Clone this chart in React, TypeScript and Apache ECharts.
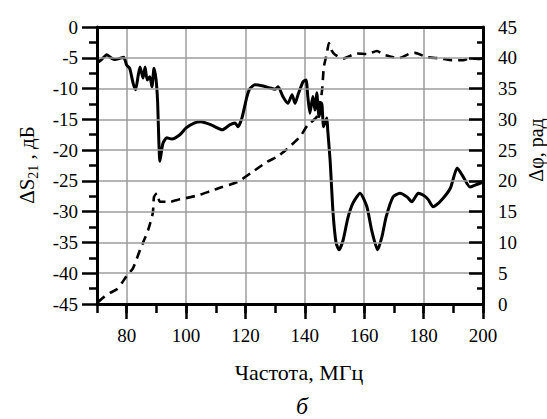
import React, { useEffect, useRef } from "react";
import * as echarts from "echarts";

// ΔS21, dB (left axis) vs frequency, MHz
const freqS = [70, 71.5, 73.3, 75, 76, 77.7, 79, 80, 81, 82.2, 83, 83.9, 84.5, 85.5, 86.2, 86.9, 87.8, 88.5, 89.2, 89.9, 90.4, 91.2, 92.2, 93.5, 95.2, 97.9, 100, 102.7, 105, 108.4, 112.2, 114.7, 116.5, 117.5, 118.8, 120.5, 121.5, 123.2, 126, 128.3, 130, 131, 132.6, 134.3, 135.7, 136.7, 137.7, 139.4, 140.4, 141, 141.7, 142.7, 143.4, 144, 144.8, 145.7, 146.3, 147.4, 147.7, 148.5, 149.5, 150.5, 151.5, 152.9, 154.5, 156.2, 158.6, 160.9, 162.5, 164.5, 166, 167.4, 169.7, 172, 174.4, 176, 178.2, 179.8, 181.5, 183.2, 185.5, 189, 191.3, 193.3, 195.6, 197.3, 200];
const s21 = [-5.85, -5.3, -4.5, -5.1, -5.3, -5.1, -4.9, -6.2, -6.7, -9.2, -10.2, -7.8, -6.5, -8.3, -6.5, -8.6, -8.1, -9.7, -6.7, -8.6, -12, -21.8, -18.9, -18, -18.2, -17.5, -16.4, -15.6, -15.4, -15.9, -16.7, -15.9, -15.6, -16.2, -14.8, -11.3, -10, -9.4, -9.6, -9.9, -10.1, -9.7, -11.3, -12.4, -11, -12.4, -11, -8.9, -8.6, -11.3, -14, -11.3, -13.5, -10.7, -14.6, -12.4, -16.2, -14.8, -16.7, -21.6, -30.2, -35, -36.2, -34.6, -31, -28.6, -27, -29.2, -33, -36.2, -34, -30.8, -27.6, -27, -27.6, -28.4, -27, -27.3, -28, -29.2, -28.4, -26.2, -22.9, -24.3, -26, -25.7, -25.2];

// Δφ, rad (right axis) vs frequency, MHz
const freqPhi = [70.3, 72.5, 74.4, 76.7, 78.5, 80, 82.1, 84.5, 87.2, 88.8, 89.2, 90.2, 91.2, 94.6, 97, 100, 104.4, 108, 112.1, 117.2, 122.2, 127.3, 130.6, 134.3, 138.4, 141, 144, 145.7, 146.4, 147.4, 148.1, 149, 150.2, 152.9, 157.6, 160.9, 164.3, 166.5, 169.7, 171.4, 175.4, 177.1, 181.1, 185.5, 189.6, 193.3, 195.6, 199, 200];
const phi = [0.3, 1.2, 1.8, 2.4, 3.5, 4.6, 5.8, 8.8, 12, 14.8, 17.4, 18, 16.6, 16.6, 16.9, 17.2, 17.7, 18.3, 19, 19.8, 21.4, 23.1, 23.9, 25.3, 27.2, 29.1, 30.4, 34.3, 38.5, 40.7, 42.4, 41.2, 40.5, 39.9, 40.7, 40.6, 41.1, 40.5, 40.1, 39.9, 40.7, 40.8, 40.1, 39.9, 39.6, 39.6, 39.9, 39.8, 40.2];

// Axis ranges
const xMin = 70;
const xMax = 200;
const xMajorStart = 80; // first labelled / gridded frequency
const yLeftMin = -45;
const yLeftMax = 0;
const yRightMin = 0;
const yRightMax = 45;

const FONT = "Liberation Serif, Times New Roman, serif";

export default function App() {
  const ref = useRef<HTMLDivElement>(null);
  useEffect(() => {
    document.body.style.margin = "0";
    const chart = echarts.init(ref.current!, null, { renderer: "svg" });
    const black = "#000";
    const gridColor = "#9c9c9c";
    const tickStyle = { color: black, width: 2.5 };
    const axisLineStyle = { color: black, width: 3 };

    const gLeft = 97;
    const gRight = 64;
    const plotW = 547 - gLeft - gRight;
    const majorLeft = gLeft + ((xMajorStart - xMin) / (xMax - xMin)) * plotW;

    const option = {
      animation: false,
      backgroundColor: "#fff",
      grid: [
        { left: gLeft, right: gRight, top: 27, bottom: 115, containLabel: false },
        { left: majorLeft, right: gRight, top: 27, bottom: 115, containLabel: false },
      ],
      xAxis: [
        {
          gridIndex: 0,
          type: "value",
          min: xMin,
          max: xMax,
          interval: 10,
          position: "bottom",
          axisLine: { show: true, onZero: false, lineStyle: axisLineStyle },
          axisTick: { show: true, length: 9, lineStyle: tickStyle },
          axisLabel: {
            fontFamily: FONT,
            fontSize: 19,
            color: black,
            margin: 22,
            formatter: (v: number) => (v % 20 === 0 ? String(v) : ""),
          },
          splitLine: { show: false },
          z: 5,
        },
        {
          gridIndex: 0,
          type: "value",
          min: xMin,
          max: xMax,
          position: "top",
          axisLine: { show: true, onZero: false, lineStyle: axisLineStyle },
          axisTick: { show: false },
          axisLabel: { show: false },
          splitLine: { show: false },
          z: 5,
        },
        {
          gridIndex: 1,
          type: "value",
          min: xMajorStart,
          max: xMax,
          interval: 20,
          position: "bottom",
          axisLine: { show: false, onZero: false },
          axisTick: { show: true, length: 15, lineStyle: tickStyle },
          axisLabel: { show: false },
          splitLine: { show: true, lineStyle: { color: gridColor, width: 1.5 } },
          z: 1,
        },
      ],
      yAxis: [
        {
          gridIndex: 0,
          type: "value",
          min: yLeftMin,
          max: yLeftMax,
          interval: 5,
          position: "left",
          axisLine: { show: true, onZero: false, lineStyle: axisLineStyle },
          axisTick: { show: true, length: 15, lineStyle: tickStyle },
          minorTick: { show: true, splitNumber: 2, length: 8, lineStyle: tickStyle },
          axisLabel: {
            fontFamily: FONT,
            fontSize: 19,
            color: black,
            margin: 19,
          },
          splitLine: { show: true, lineStyle: { color: gridColor, width: 1.5 } },
          z: 5,
        },
        {
          gridIndex: 0,
          type: "value",
          min: yRightMin,
          max: yRightMax,
          interval: 5,
          position: "right",
          axisLine: { show: true, onZero: false, lineStyle: axisLineStyle },
          axisTick: { show: true, inside: true, length: 14, lineStyle: tickStyle },
          minorTick: { show: true, splitNumber: 2, length: 6, lineStyle: tickStyle },
          axisLabel: {
            fontFamily: FONT,
            fontSize: 19,
            color: black,
            margin: 15,
          },
          splitLine: { show: false },
          z: 5,
        },
        {
          gridIndex: 1,
          type: "value",
          min: yLeftMin,
          max: yLeftMax,
          show: false,
        },
      ],
      series: [
        {
          type: "line",
          name: "ΔS21",
          xAxisIndex: 0,
          yAxisIndex: 0,
          z: 3,
          showSymbol: false,
          smooth: 0.2,
          lineStyle: { color: black, width: 3 },
          data: freqS.map((f, i) => [f, s21[i]]),
        },
        {
          type: "line",
          name: "Δφ",
          xAxisIndex: 0,
          yAxisIndex: 1,
          z: 3,
          showSymbol: false,
          smooth: 0.2,
          lineStyle: { color: black, width: 2.6, type: [9, 6] },
          data: freqPhi.map((f, i) => [f, phi[i]]),
        },
      ],
      graphic: [
        {
          type: "text",
          x: 27,
          y: 165,
          rotation: Math.PI / 2,
          style: {
            text: "{a|ΔS}{b|21}{a| , дБ}",
            align: "center",
            verticalAlign: "middle",
            fill: black,
            rich: {
              a: { fontFamily: FONT, fontSize: 21, lineHeight: 26, verticalAlign: "middle", fill: black },
              b: { fontFamily: FONT, fontSize: 14, lineHeight: 14, verticalAlign: "bottom", fill: black },
            },
          },
        },
        {
          type: "text",
          x: 536,
          y: 150,
          rotation: Math.PI / 2,
          style: {
            text: "Δφ, рад",
            align: "center",
            verticalAlign: "middle",
            fontFamily: FONT,
            fontSize: 20,
            fill: black,
          },
        },
        {
          type: "text",
          x: 299,
          y: 372,
          style: {
            text: "Частота, МГц",
            align: "center",
            verticalAlign: "middle",
            fontFamily: FONT,
            fontSize: 22,
            fill: black,
          },
        },
        {
          type: "text",
          x: 302,
          y: 406,
          style: {
            text: "б",
            align: "center",
            verticalAlign: "middle",
            fontFamily: FONT,
            fontStyle: "italic",
            fontSize: 24,
            fill: black,
          },
        },
      ],
    };
    chart.setOption(option as any);
    return () => chart.dispose();
  }, []);
  return <div ref={ref} style={{ width: 547, height: 419 }} />;
}
